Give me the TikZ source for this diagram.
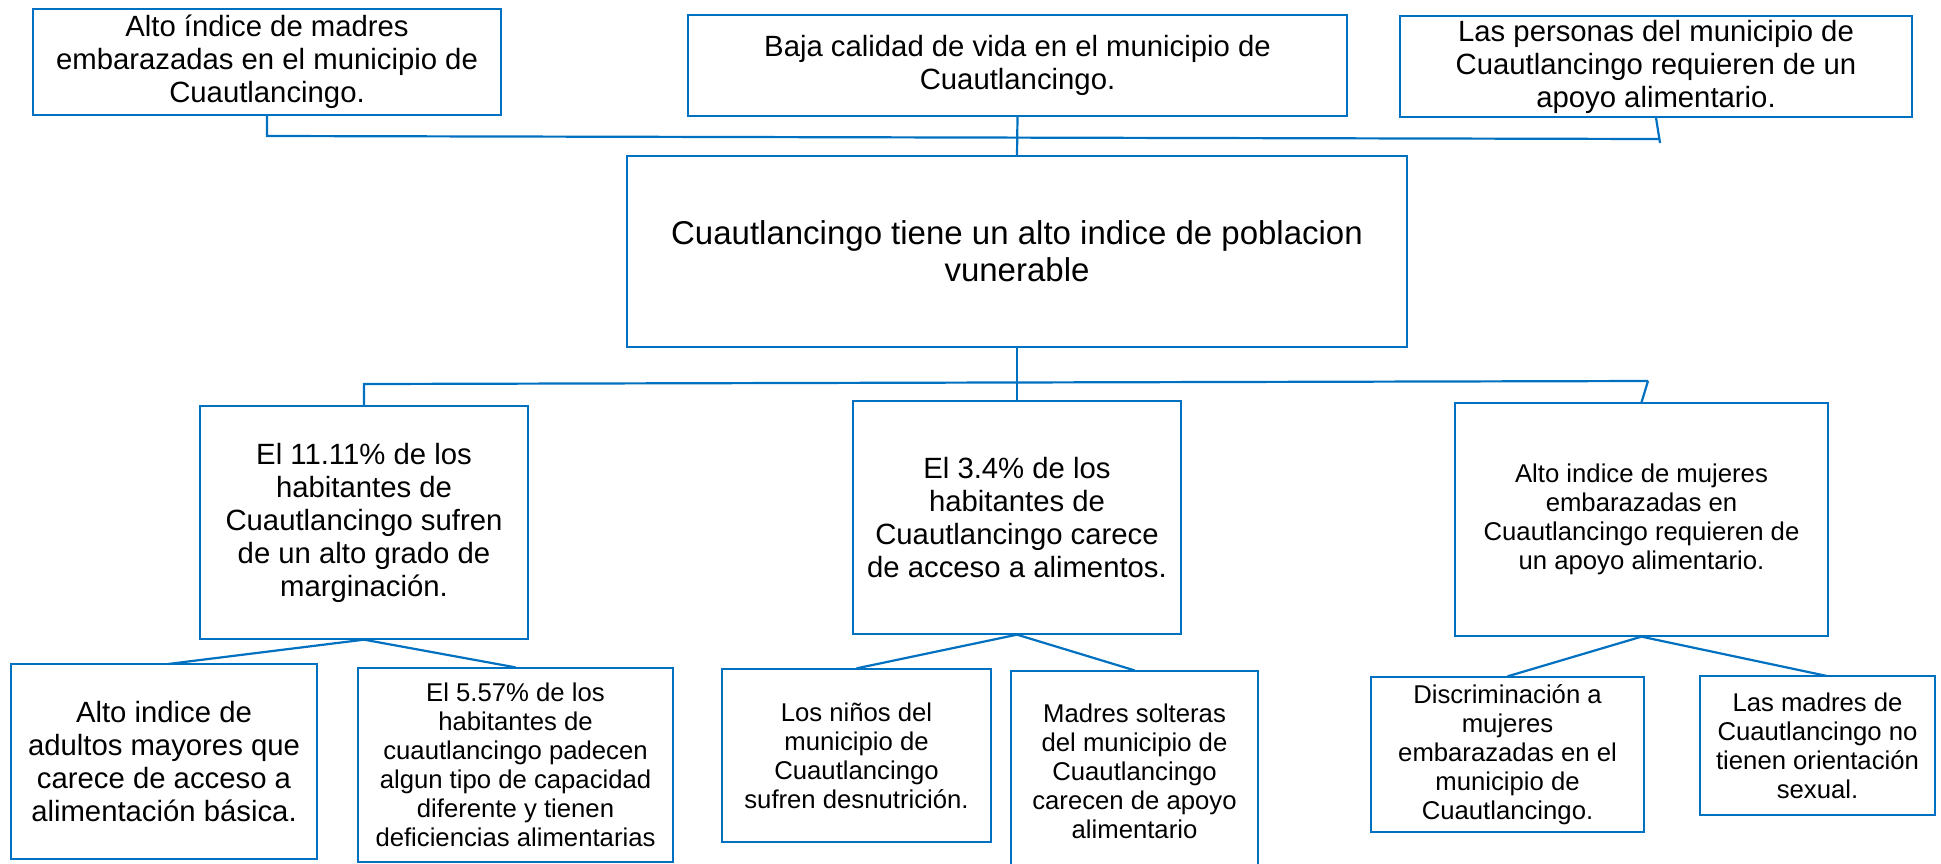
\documentclass[tikz,border=0pt]{standalone}
\usepackage{fontspec}
\setmainfont{Liberation Sans}
\definecolor{azul}{RGB}{0,112,192}
\tikzset{
  caja/.style={draw=azul,line width=1.3pt,inner sep=0pt,align=center,
    font=\fontsize{29.3}{33}\selectfont},
  cajita/.style={caja,font=\fontsize{25.7}{29}\selectfont},
  enlace/.style={draw=azul,line width=2.2pt}
}

\begin{document}
\begin{tikzpicture}[x=1pt,y=-1pt]
  \useasboundingbox (0,0) rectangle (1941,863);
  % efectos
  \node[caja,minimum width=468,minimum height=106] (causaA) at (267,62)
  {Alto índice de madres\\embarazadas en el municipio de\\Cuautlancingo.};
  \node[caja,minimum width=659,minimum height=101] (causaB) at (1017.5,65.5)
  {Baja calidad de vida en el municipio de\\Cuautlancingo.};
  \node[caja,minimum width=512,minimum height=101] (causaC) at (1656,66.5)
  {Las personas del municipio de\\Cuautlancingo requieren de un\\apoyo alimentario.};
  % problema central
  \node[caja,minimum width=780,minimum height=191,font=\fontsize{33}{37}\selectfont]
  (problema) at (1017,251.5) {Cuautlancingo tiene un alto indice de poblacion\\vunerable};
  % causas
  \node[caja,minimum width=328,minimum height=233] (efL) at (364,522.5)
  {El 11.11\% de los\\habitantes de\\Cuautlancingo sufren\\de un alto grado de\\marginación.};
  \node[caja,minimum width=328,minimum height=233] (efM) at (1017,517.5)
  {El 3.4\% de los\\habitantes de\\Cuautlancingo carece\\de acceso a alimentos.};
  \node[cajita,minimum width=373,minimum height=233] (efR) at (1641.5,519.5)
  {Alto indice de mujeres\\embarazadas en\\Cuautlancingo requieren de\\un apoyo alimentario.};
  % subcausas
  \node[caja,minimum width=306,minimum height=195] (subLL) at (164,761.5)
  {Alto indice de\\adultos mayores que\\carece de acceso a\\alimentación básica.};
  \node[cajita,minimum width=315,minimum height=194] (subLR) at (515.5,765)
  {El 5.57\% de los\\habitantes de\\cuautlancingo padecen\\algun tipo de capacidad\\diferente y tienen\\deficiencias alimentarias};
  \node[cajita,minimum width=269,minimum height=173] (subML) at (856.5,755.5)
  {Los niños del\\municipio de\\Cuautlancingo\\sufren desnutrición.};
  \node[cajita,minimum width=247,minimum height=201] (subMR) at (1134.5,771.5)
  {Madres solteras\\del municipio de\\Cuautlancingo\\carecen de apoyo\\alimentario};
  \node[cajita,minimum width=273,minimum height=155] (subRL) at (1507.5,754.5)
  {Discriminación a\\mujeres\\embarazadas en el\\municipio de\\Cuautlancingo.};
  \node[cajita,minimum width=235,minimum height=139] (subRR) at (1817.5,745.5)
  {Las madres de\\Cuautlancingo no\\tienen orientación\\sexual.};

  \coordinate (hA) at (267,136);
  \coordinate (hC) at (1660,139);
  \coordinate (tC) at (1660,143);
  \coordinate (hL) at (364,384);
  \coordinate (hR) at (1648,381);
  \coordinate (pRR) at (1827,676);
  \coordinate (pLL) at (168,664);
  \draw[enlace] (causaA.south) -- (hA) -- (hC);
  \draw[enlace] (causaC.south) -- (tC);
  \draw[enlace] (causaB.south) -- (problema.north);
  \draw[enlace] (efL.north) -- (hL) -- (hR);
  \draw[enlace] (efR.north) -- (hR);
  \draw[enlace] (problema.south) -- (efM.north);
  \draw[enlace] (efL.south) -- (pLL);
  \draw[enlace] (efR.south) -- (pRR);
  \foreach \a/\b in {efL/subLR,efM/subML,efM/subMR,efR/subRL}
    \draw[enlace] (\a.south) -- (\b.north);
\end{tikzpicture}
\end{document}
